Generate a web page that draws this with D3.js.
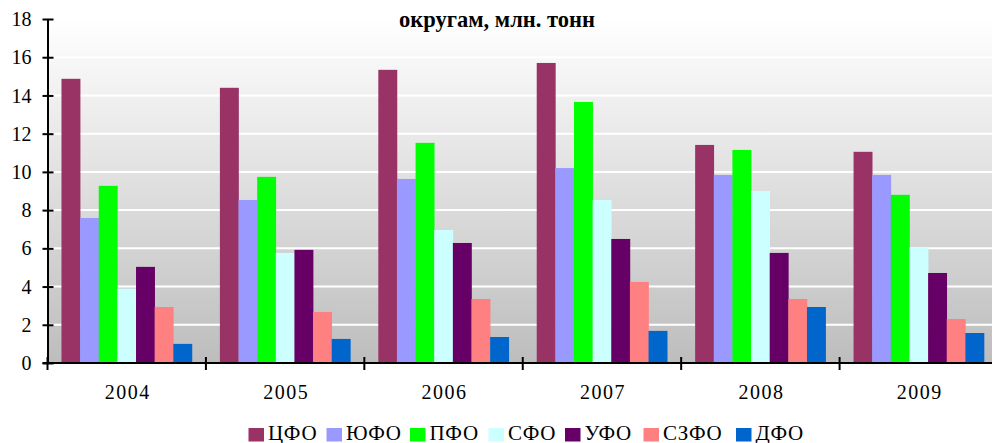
<!DOCTYPE html>
<html><head><meta charset="utf-8">
<script src="https://cdn.jsdelivr.net/npm/d3@7"></script>
<style>
html,body{margin:0;padding:0;background:#fff;overflow:hidden;}
svg{display:block;font-family:"Liberation Serif","Times New Roman",serif;}
</style></head>
<body>
<svg id="chart" width="992" height="443"></svg>
<script>
const years = ["2004","2005","2006","2007","2008","2009"];
const seriesNames = ["ЦФО","ЮФО","ПФО","СФО","УФО","СЗФО","ДФО"];
const seriesColors = ["#993366","#9999FF","#00FF00","#CCFFFF","#660066","#FF8080","#0066CC"];
const cfo  = [14.87, 14.40, 15.34, 15.70, 11.41, 11.05];
const yufo = [7.59, 8.53, 9.63, 10.20, 9.84, 9.84];
const pfo  = [9.27, 9.74, 11.52, 13.66, 11.15, 8.80];
const sfo  = [3.89, 5.76, 6.96, 8.53, 9.00, 6.02];
const ufo  = [5.03, 5.92, 6.28, 6.49, 5.76, 4.71];
const szfo = [2.93, 2.67, 3.35, 4.24, 3.35, 2.30];
const dfo  = [1.00, 1.26, 1.36, 1.68, 2.93, 1.57];
const yTicks = [0,2,4,6,8,10,12,14,16,18];
const titleText = "округам, млн. тонн";

const seriesValues = [cfo, yufo, pfo, sfo, ufo, szfo, dfo];
const svg = d3.select("#chart");
const L = 47.5, R = 998, T = 19, B = 363;

const x0 = d3.scaleBand().domain(years).range([L, R]).paddingInner(0).paddingOuter(0);
const x1 = d3.scaleBand().domain(seriesNames).range([0, x0.bandwidth()]).paddingInner(0).paddingOuter(0.75);
const y = d3.scaleLinear().domain([0, 18]).range([B, T]);

// background gradient
const defs = svg.append("defs");
const grad = defs.append("linearGradient").attr("id","bg").attr("x1",0).attr("y1",0).attr("x2",0).attr("y2",1);
grad.append("stop").attr("offset","0%").attr("stop-color","#ffffff");
grad.append("stop").attr("offset","100%").attr("stop-color","#bdbdbd");
svg.append("rect").attr("x",L).attr("y",T).attr("width",R-L).attr("height",B-T).attr("fill","url(#bg)");

// gridlines
svg.append("g").selectAll("line").data(yTicks.filter(d=>d>0)).join("line")
  .attr("x1",L).attr("x2",R).attr("y1",d=>y(d)).attr("y2",d=>y(d))
  .attr("stroke","#ffffff").attr("stroke-width",2);

// bars
const data = [];
years.forEach((yr,i)=>seriesNames.forEach((s,j)=>data.push({yr, s, j, v: seriesValues[j][i]})));
svg.append("g").selectAll("rect").data(data).join("rect")
  .attr("x", d=>x0(d.yr)+x1(d.s))
  .attr("width", x1.bandwidth()+0.3)
  .attr("y", d=>y(d.v))
  .attr("height", d=>y(0)-y(d.v))
  .attr("fill", d=>seriesColors[d.j]);

// y axis
const yAxis = svg.append("g").attr("transform",`translate(${L},0)`)
  .call(d3.axisLeft(y).tickValues(yTicks).tickSize(5).tickPadding(11).tickSizeOuter(0));
yAxis.attr("font-family",null);
yAxis.select(".domain").attr("stroke","#000").attr("stroke-width",2);
yAxis.selectAll(".tick line").attr("stroke","#000").attr("stroke-width",2).attr("x1",6).attr("x2",-5);
yAxis.selectAll(".tick text").attr("font-size",20).attr("fill","#000").attr("dy","0.33em");

// x axis
const xg = svg.append("g");
xg.append("line").attr("x1",L-5).attr("x2",R).attr("y1",B).attr("y2",B).attr("stroke","#000").attr("stroke-width",2);
const bounds = years.map(d=>x0(d)).concat([x0(years[years.length-1])+x0.bandwidth()]);
xg.selectAll("line.tk").data(bounds).join("line").attr("class","tk")
  .attr("x1",d=>d).attr("x2",d=>d).attr("y1",B-6).attr("y2",B+7).attr("stroke","#000").attr("stroke-width",2);
xg.selectAll("text").data(years).join("text")
  .attr("x",d=>x0(d)+x0.bandwidth()/2+1).attr("y",399)
  .attr("text-anchor","middle").attr("font-size",20).attr("letter-spacing","1.5px").text(d=>d);

// title
svg.append("text").attr("x",497).attr("y",27).attr("text-anchor","middle")
  .attr("font-size",22.5).attr("font-weight","bold").text(titleText);

// legend
const legPos = [248.5, 326.5, 410, 488.5, 565, 643.5, 736];
const leg = svg.append("g");
seriesNames.forEach((s,j)=>{
  const g = leg.append("g").attr("transform",`translate(${legPos[j]},0)`);
  g.append("rect").attr("x",0).attr("y",428).attr("width",15.5).attr("height",13.5).attr("fill",seriesColors[j]);
  g.append("text").attr("x",19.5).attr("y",439.5).attr("font-size",21).attr("letter-spacing","0.7px").text(s);
});
</script>
</body></html>
